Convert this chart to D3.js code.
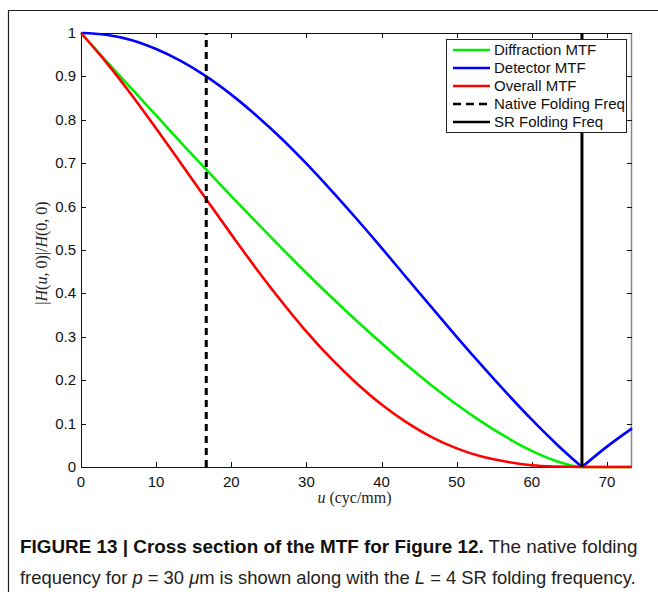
<!DOCTYPE html>
<html>
<head>
<meta charset="utf-8">
<script src="https://cdn.jsdelivr.net/npm/d3@7"></script>
<style>
  html, body { margin: 0; padding: 0; background: #fff; }
  svg { display: block; }
  .tick-label { font-family: "Liberation Sans", Arial, sans-serif; font-size: 15px; fill: #111; }
  .legend-label { font-family: "Liberation Sans", Arial, sans-serif; font-size: 15px; fill: #111; }
  .math { font-family: "Liberation Serif", "Times New Roman", serif; font-size: 16px; fill: #222; }
  .caption { font-family: "Liberation Sans", Arial, sans-serif; font-size: 18px; fill: #222; }
</style>
</head>
<body>
<div id="chart"></div>
<script>
// spatial frequency samples (cyc/mm)
const uValues = [0, 3.33, 6.67, 10, 13.33, 16.67, 20, 23.33, 26.67, 30, 33.33, 36.67,
  40, 43.33, 46.67, 50, 53.33, 56.67, 60, 63.33, 66.67, 70, 73.33];
const diffraction = [1, 0.936, 0.873, 0.810, 0.747, 0.685, 0.624, 0.564, 0.505, 0.447, 0.391, 0.337,
  0.285, 0.235, 0.188, 0.144, 0.104, 0.068, 0.037, 0.013, 0, 0, 0];
const detector = [1, 0.996, 0.984, 0.963, 0.935, 0.900, 0.858, 0.810, 0.757, 0.699, 0.637, 0.572,
  0.505, 0.436, 0.368, 0.300, 0.234, 0.170, 0.109, 0.052, 0, 0.047, 0.089];
const overall = [1, 0.933, 0.859, 0.780, 0.699, 0.617, 0.536, 0.457, 0.382, 0.312, 0.249, 0.193,
  0.144, 0.103, 0.069, 0.043, 0.024, 0.012, 0.004, 0.001, 0, 0, 0];
const nativeFold = 16.67;
const srFold = 66.67;
const xTicks = [0, 10, 20, 30, 40, 50, 60, 70];
const yTicks = [0, 0.1, 0.2, 0.3, 0.4, 0.5, 0.6, 0.7, 0.8, 0.9, 1];
const legendLabels = ["Diffraction MTF", "Detector MTF", "Overall MTF", "Native Folding Freq", "SR Folding Freq"];

const width = 658, height = 596;
const plot = { left: 81, right: 632, top: 33, bottom: 467 };

const svg = d3.select("#chart").append("svg").attr("width", width).attr("height", height);

// page frame (left + top rule)
svg.append("path").attr("d", `M8.5,592 V10.5 H${width}`).attr("fill", "none").attr("stroke", "#222").attr("stroke-width", 1.2);

const x = d3.scaleLinear().domain([0, 73.33]).range([plot.left, plot.right]);
const y = d3.scaleLinear().domain([0, 1]).range([plot.bottom, plot.top]);

// box and inward ticks
const box = svg.append("g");
box.append("line").attr("x1", plot.left).attr("x2", plot.right).attr("y1", plot.top + 0.5).attr("y2", plot.top + 0.5).attr("stroke", "#111");
box.append("line").attr("x1", plot.right - 0.5).attr("x2", plot.right - 0.5).attr("y1", plot.top).attr("y2", plot.bottom).attr("stroke", "#888").attr("stroke-width", 1.5);
box.append("line").attr("x1", plot.left + 0.5).attr("x2", plot.left + 0.5).attr("y1", plot.top).attr("y2", plot.bottom).attr("stroke", "#111");
box.append("line").attr("x1", plot.left).attr("x2", plot.right).attr("y1", plot.bottom + 0.5).attr("y2", plot.bottom + 0.5).attr("stroke", "#111");

xTicks.forEach(t => {
  const px = Math.round(x(t)) + 0.5;
  box.append("line").attr("x1", px).attr("x2", px).attr("y1", plot.bottom).attr("y2", plot.bottom - 5).attr("stroke", "#111");
  box.append("line").attr("x1", px).attr("x2", px).attr("y1", plot.top).attr("y2", plot.top + 5).attr("stroke", "#111");
  box.append("text").attr("class", "tick-label").attr("x", x(t)).attr("y", plot.bottom + 20)
    .attr("text-anchor", "middle").text(t);
});
yTicks.forEach(t => {
  const py = Math.round(y(t)) + 0.5;
  box.append("line").attr("x1", plot.left).attr("x2", plot.left + 5).attr("y1", py).attr("y2", py).attr("stroke", "#111");
  box.append("line").attr("x1", plot.right).attr("x2", plot.right - 5).attr("y1", py).attr("y2", py).attr("stroke", "#111");
  box.append("text").attr("class", "tick-label").attr("x", plot.left - 5).attr("y", y(t) + 5)
    .attr("text-anchor", "end").text(d3.format("~g")(t));
});

// curves
const line = d3.line().x(d => x(d[0])).y(d => y(d[1])).curve(d3.curveMonotoneX);
const zeroIdx = uValues.indexOf(srFold);
const pairs = vals => uValues.map((u, i) => [u, vals[i]]);

const curves = svg.append("g").attr("fill", "none").attr("stroke-width", 2.6);
curves.append("path").attr("d", line(pairs(diffraction))).attr("stroke", "#00ee00");
const det = pairs(detector);
curves.append("path").attr("d", line(det.slice(0, zeroIdx + 1))).attr("stroke", "#0000ff");
curves.append("path").attr("d", line(det.slice(zeroIdx))).attr("stroke", "#0000ff");
curves.append("path").attr("d", line(pairs(overall))).attr("stroke", "#ff0000");

// folding frequencies
svg.append("line").attr("x1", x(nativeFold)).attr("x2", x(nativeFold)).attr("y1", y(0)).attr("y2", y(1))
  .attr("stroke", "#000").attr("stroke-width", 3).attr("stroke-dasharray", "7,5");
svg.append("line").attr("x1", x(srFold)).attr("x2", x(srFold)).attr("y1", y(0)).attr("y2", y(1))
  .attr("stroke", "#000").attr("stroke-width", 3);

// legend
const legend = svg.append("g").attr("transform", "translate(446,39)");
legend.append("rect").attr("x", 0.5).attr("y", 0.5).attr("width", 180).attr("height", 93)
  .attr("fill", "#fff").attr("stroke", "#222");
const legendStyles = [
  { color: "#00ee00", dash: null },
  { color: "#0000ff", dash: null },
  { color: "#ff0000", dash: null },
  { color: "#000", dash: "8,5" },
  { color: "#000", dash: null }
];
legendLabels.forEach((label, i) => {
  const ry = 11 + i * 18;
  legend.append("line").attr("x1", 7).attr("x2", 44).attr("y1", ry).attr("y2", ry)
    .attr("stroke", legendStyles[i].color).attr("stroke-width", 2.6)
    .attr("stroke-dasharray", legendStyles[i].dash);
  legend.append("text").attr("class", "legend-label").attr("x", 48).attr("y", ry + 5).text(label);
});

// axis titles (LaTeX-style serif)
const xt = svg.append("text").attr("class", "math").attr("x", (plot.left + plot.right) / 2 - 2).attr("y", 503)
  .attr("text-anchor", "middle");
xt.append("tspan").attr("font-style", "italic").text("u");
xt.append("tspan").text(" (cyc/mm)");

const yt = svg.append("text").attr("class", "math")
  .attr("transform", `translate(47,${(plot.top + plot.bottom) / 2 + 3}) rotate(-90)`)
  .attr("text-anchor", "middle").attr("fill", "#444");
yt.append("tspan").text("|");
yt.append("tspan").attr("font-style", "italic").text("H");
yt.append("tspan").text("(");
yt.append("tspan").attr("font-style", "italic").text("u");
yt.append("tspan").text(", 0)|/");
yt.append("tspan").attr("font-style", "italic").text("H");
yt.append("tspan").text("(0, 0)");

// caption
function fitText(sel, x0, yBase, targetWidth) {
  const w = sel.node().getComputedTextLength();
  sel.attr("x", 0).attr("y", 0).attr("transform", `translate(${x0},${yBase}) scale(${targetWidth / w},1)`);
}
const cap1 = svg.append("text").attr("class", "caption");
cap1.append("tspan").attr("font-weight", "bold").attr("fill", "#111").text("FIGURE 13 | Cross section of the MTF for Figure 12.");
cap1.append("tspan").text(" The native folding");
fitText(cap1, 20, 553, 618);

const cap2 = svg.append("text").attr("class", "caption");
cap2.append("tspan").text("frequency for ");
cap2.append("tspan").attr("font-style", "italic").text("p");
cap2.append("tspan").text(" = 30 ");
cap2.append("tspan").attr("font-style", "italic").text("μ");
cap2.append("tspan").text("m is shown along with the ");
cap2.append("tspan").attr("font-style", "italic").text("L");
cap2.append("tspan").text(" = 4 SR folding frequency.");
fitText(cap2, 20, 584, 616);
</script>
</body>
</html>
